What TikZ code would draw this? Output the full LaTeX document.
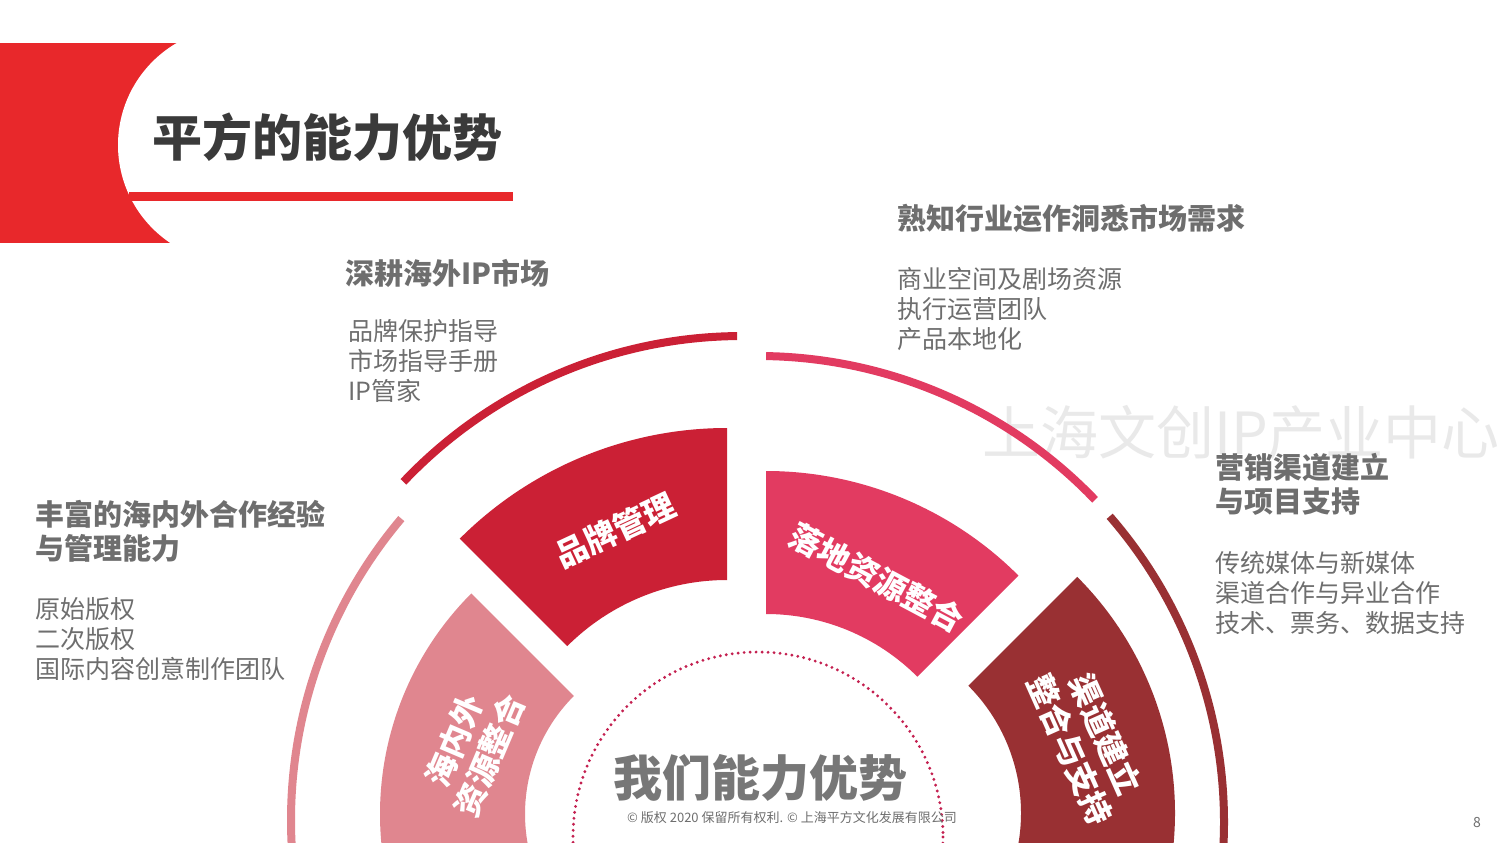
\documentclass[tikz,border=0pt]{standalone}
\usepackage{fontspec}
\setmainfont{Noto Sans CJK SC}
\definecolor{hdred}{HTML}{E8282B}
\definecolor{brand}{HTML}{CB2035}
\definecolor{land}{HTML}{E23B61}
\definecolor{oversea}{HTML}{E0868F}
\definecolor{channel}{HTML}{993033}
\definecolor{dotred}{HTML}{C42050}
\definecolor{titlegray}{HTML}{3A3A3A}
\definecolor{txtgray}{HTML}{6E6E6E}
\definecolor{midgray}{HTML}{777777}
\definecolor{wmgray}{HTML}{E9E9E9}
\begin{document}
\begin{tikzpicture}[x=1pt,y=-1pt,
    head/.style={anchor=west,inner sep=0pt,text=txtgray,font=\bfseries\fontsize{29}{34}\selectfont,align=left},
    item/.style={anchor=west,inner sep=0pt,text=txtgray,font=\fontsize{25}{30}\selectfont,align=left},
    seglabel/.style={inner sep=0pt,text=white,font=\bfseries\fontsize{32}{38}\selectfont,align=center}]
  \useasboundingbox (0,0) rectangle (1500,843);
  \clip (0,0) rectangle (1500,843);
  \fill[white] (0,0) rectangle (1500,843);
  \node[anchor=west,inner sep=0pt,text=wmgray,font=\fontsize{58}{58}\selectfont] (mark) at (982,432) {上海文创IP产业中心};
  \fill[hdred] (0,43) rectangle (180,243);
  \fill[white] (236,145) circle[radius=118];
  \fill[hdred] (129,192) rectangle (513,201);
  \node[anchor=west,inner sep=0pt,text=titlegray,font=\bfseries\fontsize{50}{50}\selectfont] (title) at (152,137) {平方的能力优势};
  \foreach \cx/\cy/\r/\a/\b/\col in {742/802/466/-136.6/-90.6/brand, 758/823/467/-89/-43.8/land,
      758/820/467/-139.8/-195/oversea, 758/822/466/-41/10/channel}
    \draw[\col,line width=8pt] (\cx,\cy) ++(\a:\r) arc[start angle=\a,end angle=\b,radius=\r];
  \foreach \cx/\cy/\ri/\ro/\a/\b/\col in {727/806/226/378/-135/-90/brand, 766/828/214/357/-90/-45/land,
      692/814/167/312/-200/-135/oversea, 841/813/180/334/-45/20/channel}
    \fill[\col,shift={(\cx,\cy)}] (\a:\ro) arc[start angle=\a,end angle=\b,radius=\ro]
      -- (\b:\ri) arc[start angle=\b,end angle=\a,radius=\ri] -- cycle;
  \draw[dotred,line width=3.2pt,line cap=round,dash pattern=on 0pt off 6pt] (758,837) circle[radius=185];
  \node[seglabel,rotate=25] (brandlbl) at (615,530) {品牌管理};
  \node[seglabel,rotate=-28] (landlbl) at (877,578) {落地资源整合};
  \node[seglabel,rotate=67] (overlbl) at (472,748) {海内外\\资源整合};
  \node[seglabel,rotate=-66] (chanlbl) at (1088,742) {渠道建立\\整合与支持};
  \node[anchor=center,inner sep=0pt,text=midgray,font=\bfseries\fontsize{49}{49}\selectfont] (core) at (760,778) {我们能力优势};
  \node[head] (ipmkt) at (345,273) {深耕海外IP市场};
  \node[item] (ipitems) at (348,361) {品牌保护指导\\市场指导手册\\IP管家};
  \node[head] (trade) at (897,218) {熟知行业运作洞悉市场需求};
  \node[item] (tradeitems) at (897,309) {商业空间及剧场资源\\执行运营团队\\产品本地化};
  \node[head] (sales) at (1215,484) {营销渠道建立\\与项目支持};
  \node[item] (salesitems) at (1215,593) {传统媒体与新媒体\\渠道合作与异业合作\\技术、票务、数据支持};
  \node[head] (coop) at (35,531) {丰富的海内外合作经验\\与管理能力};
  \node[item] (coopitems) at (35,639) {原始版权\\二次版权\\国际内容创意制作团队};
  \node[inner sep=0pt,text=txtgray,font=\fontsize{13}{13}\selectfont] (copy) at (792,818) {© 版权 2020 保留所有权利. © 上海平方文化发展有限公司};
  \node[inner sep=0pt,text=txtgray,font=\fontsize{14}{14}\selectfont] (page) at (1477,823) {8};
\end{tikzpicture}
\end{document}
